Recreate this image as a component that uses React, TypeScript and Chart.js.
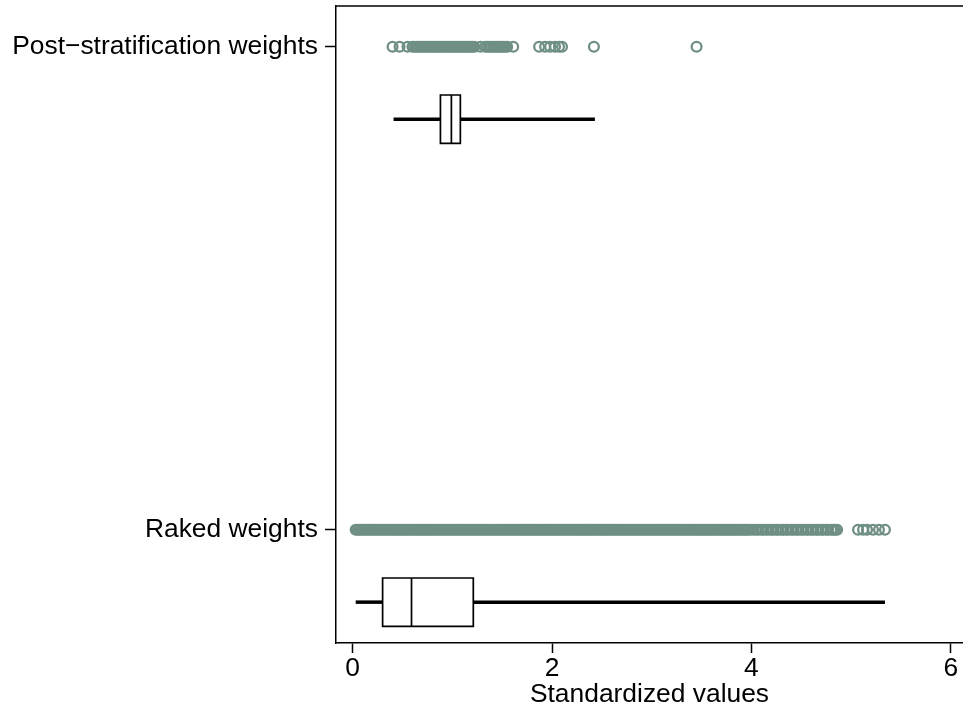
import React, { useEffect, useRef } from 'react';
import { Chart, registerables } from 'chart.js';

Chart.register(...registerables);

// ---- data ----
const categories = ['Raked weights', 'Post−stratification weights'];

const rakedPoints = [
  0.03, 0.05, 0.07, 0.09, 0.11, 0.13, 0.15, 0.17, 0.19, 0.21,
  0.23, 0.25, 0.27, 0.29, 0.31, 0.33, 0.35, 0.37, 0.39, 0.41,
  0.43, 0.45, 0.47, 0.49, 0.51, 0.53, 0.55, 0.57, 0.59, 0.61,
  0.63, 0.65, 0.67, 0.69, 0.71, 0.73, 0.75, 0.77, 0.79, 0.81,
  0.83, 0.85, 0.87, 0.89, 0.91, 0.93, 0.95, 0.97, 0.99, 1.01,
  1.03, 1.05, 1.07, 1.09, 1.11, 1.13, 1.15, 1.17, 1.19, 1.21,
  1.23, 1.25, 1.27, 1.29, 1.31, 1.33, 1.35, 1.37, 1.39, 1.41,
  1.43, 1.45, 1.47, 1.49, 1.51, 1.53, 1.55, 1.57, 1.59, 1.61,
  1.63, 1.65, 1.67, 1.69, 1.71, 1.73, 1.75, 1.77, 1.79, 1.81,
  1.83, 1.85, 1.87, 1.89, 1.91, 1.93, 1.95, 1.97, 1.99, 2.01,
  2.03, 2.05, 2.07, 2.09, 2.11, 2.13, 2.15, 2.17, 2.19, 2.21,
  2.23, 2.25, 2.27, 2.29, 2.31, 2.33, 2.35, 2.37, 2.39, 2.41,
  2.43, 2.45, 2.47, 2.49, 2.51, 2.53, 2.55, 2.57, 2.59, 2.61,
  2.63, 2.65, 2.67, 2.69, 2.71, 2.73, 2.75, 2.77, 2.79, 2.81,
  2.83, 2.85, 2.87, 2.89, 2.91, 2.93, 2.95, 2.97, 2.99, 3.01,
  3.03, 3.05, 3.07, 3.09, 3.11, 3.13, 3.15, 3.17, 3.19, 3.21,
  3.23, 3.25, 3.27, 3.29, 3.31, 3.33, 3.35, 3.37, 3.39, 3.41,
  3.43, 3.45, 3.47, 3.49, 3.51, 3.53, 3.55, 3.57, 3.59, 3.61,
  3.63, 3.65, 3.67, 3.69, 3.71, 3.73, 3.75, 3.77, 3.79, 3.81,
  3.83, 3.85, 3.87, 3.89, 3.91, 3.93, 3.95, 3.97, 3.99,
  4.02, 4.05, 4.07, 4.10, 4.12, 4.15, 4.17, 4.20, 4.22, 4.25,
  4.27, 4.30, 4.32, 4.35, 4.37, 4.40, 4.42, 4.45, 4.47, 4.50,
  4.52, 4.55, 4.57, 4.60, 4.62, 4.65, 4.67, 4.70, 4.72, 4.75,
  4.77, 4.80, 4.82, 4.84, 4.86,
  5.07, 5.12, 5.16, 5.22, 5.28, 5.34,
];

const postPoints = [
  0.40, 0.47, 0.55, 0.60, 0.62, 0.64, 0.66, 0.68, 0.70, 0.72,
  0.74, 0.76, 0.78, 0.80, 0.82, 0.84, 0.86, 0.88, 0.90, 0.92,
  0.94, 0.96, 0.98, 1.00, 1.02, 1.04, 1.06, 1.08, 1.10, 1.12,
  1.14, 1.16, 1.18, 1.20, 1.22, 1.28, 1.33, 1.35, 1.37, 1.39,
  1.41, 1.43, 1.45, 1.47, 1.49, 1.51, 1.53, 1.55, 1.61,
  1.87, 1.93, 1.98, 2.03, 2.07, 2.10,
  2.42,
  3.45,
];

// box statistics, in the order of `categories`
const whiskerLow = [0.03, 0.41];
const q1 = [0.30, 0.88];
const median = [0.59, 0.99];
const q3 = [1.21, 1.08];
const whiskerHigh = [5.34, 2.43];

const xTicks = [0, 2, 4, 6];
const xTitle = 'Standardized values';

// ---- layout / style constants ----
const BOX_OFFSET = 0.15;
const BOX_HALF = 0.05;
const DOT = '#6f8f84';
const FONT = "'Liberation Sans', Arial, sans-serif";
const FONT_SIZE = 26.4;

const framePlugin = {
  id: 'frameTop',
  afterDraw(chart: any) {
    const { ctx, chartArea } = chart;
    ctx.save();
    ctx.strokeStyle = '#000';
    ctx.lineWidth = 1.5;
    ctx.beginPath();
    ctx.moveTo(chartArea.left - 0.75, chartArea.top);
    ctx.lineTo(chartArea.right, chartArea.top);
    ctx.stroke();
    ctx.restore();
  },
};

export default function App() {
  const ref = useRef<HTMLCanvasElement>(null);

  useEffect(() => {
    const canvas = ref.current;
    if (!canvas) return;
    const pointSets = [rakedPoints, postPoints];
    const datasets: any[] = [];
    categories.forEach((_, i) => {
      const yb = i - BOX_OFFSET;
      const lineBase = {
        showLine: true,
        borderColor: '#000',
        pointRadius: 0,
        pointHoverRadius: 0,
        fill: false,
        tension: 0,
      };
      datasets.push({
        ...lineBase,
        data: [{ x: whiskerLow[i], y: yb }, { x: q1[i], y: yb }],
        borderWidth: 3.5,
        borderCapStyle: 'butt',
      });
      datasets.push({
        ...lineBase,
        data: [{ x: q3[i], y: yb }, { x: whiskerHigh[i], y: yb }],
        borderWidth: 3.5,
        borderCapStyle: 'butt',
      });
      datasets.push({
        ...lineBase,
        data: [
          { x: q1[i], y: yb - BOX_HALF },
          { x: q3[i], y: yb - BOX_HALF },
          { x: q3[i], y: yb + BOX_HALF },
          { x: q1[i], y: yb + BOX_HALF },
          { x: q1[i], y: yb - BOX_HALF },
        ],
        borderWidth: 1.7,
        borderJoinStyle: 'miter',
        borderCapStyle: 'square',
      });
      datasets.push({
        ...lineBase,
        data: [
          { x: median[i], y: yb - BOX_HALF },
          { x: median[i], y: yb + BOX_HALF },
        ],
        borderWidth: 1.7,
        borderCapStyle: 'butt',
      });
      datasets.push({
        data: pointSets[i].map((v) => ({ x: v, y: i })),
        showLine: false,
        pointStyle: 'circle',
        pointRadius: 4.9,
        pointHoverRadius: 4.9,
        pointBorderWidth: 2.3,
        pointBorderColor: DOT,
        pointBackgroundColor: 'rgba(0,0,0,0)',
      });
    });

    const chart = new Chart(canvas, {
      type: 'scatter',
      data: { datasets },
      options: {
        animation: false,
        responsive: false,
        events: [],
        layout: { autoPadding: false, padding: { top: 6, right: 0, bottom: 0, left: 0 } },
        plugins: {
          legend: { display: false },
          tooltip: { enabled: false },
        },
        scales: {
          x: {
            type: 'linear',
            min: -0.1676,
            max: 6.123,
            afterBuildTicks: (s: any) => {
              s.ticks = xTicks.map((v) => ({ value: v }));
            },
            afterFit: (s: any) => {
              s.height = 71;
              s.paddingLeft = 0;
              s.paddingRight = 0;
            },
            grid: {
              display: true,
              drawOnChartArea: false,
              drawTicks: true,
              tickLength: 10,
              tickColor: '#000',
              tickWidth: 1.5,
            },
            border: { display: true, color: '#000', width: 1.5 },
            ticks: {
              color: '#000',
              padding: 0,
              maxRotation: 0,
              font: { family: FONT, size: FONT_SIZE, lineHeight: 1.2 },
              callback: (v: any) => String(v),
            },
            title: {
              display: true,
              text: xTitle,
              color: '#000',
              font: { family: FONT, size: FONT_SIZE, lineHeight: 1.2 },
              padding: { top: 0, bottom: 3 },
            },
          },
          y: {
            type: 'linear',
            min: -0.2346,
            max: 1.0843,
            afterBuildTicks: (s: any) => {
              s.ticks = categories.map((_, i) => ({ value: i }));
            },
            afterFit: (s: any) => {
              s.width = 336;
              s.paddingTop = 0;
              s.paddingBottom = 0;
            },
            grid: {
              display: true,
              drawOnChartArea: false,
              drawTicks: true,
              tickLength: 11,
              tickColor: '#000',
              tickWidth: 1.5,
            },
            border: { display: true, color: '#000', width: 1.5 },
            ticks: {
              color: '#000',
              padding: 7,
              font: { family: FONT, size: FONT_SIZE, lineHeight: 1.2 },
              callback: (v: any) => categories[v as number] ?? '',
            },
          },
        },
      },
      plugins: [framePlugin],
    } as any);

    return () => chart.destroy();
  }, []);

  return (
    <div
      style={{
        position: 'absolute',
        left: 0,
        top: 0,
        width: 963,
        height: 714,
        overflow: 'hidden',
        background: '#fff',
      }}
    >
      <canvas ref={ref} width={963} height={714} style={{ display: 'block' }} />
    </div>
  );
}
